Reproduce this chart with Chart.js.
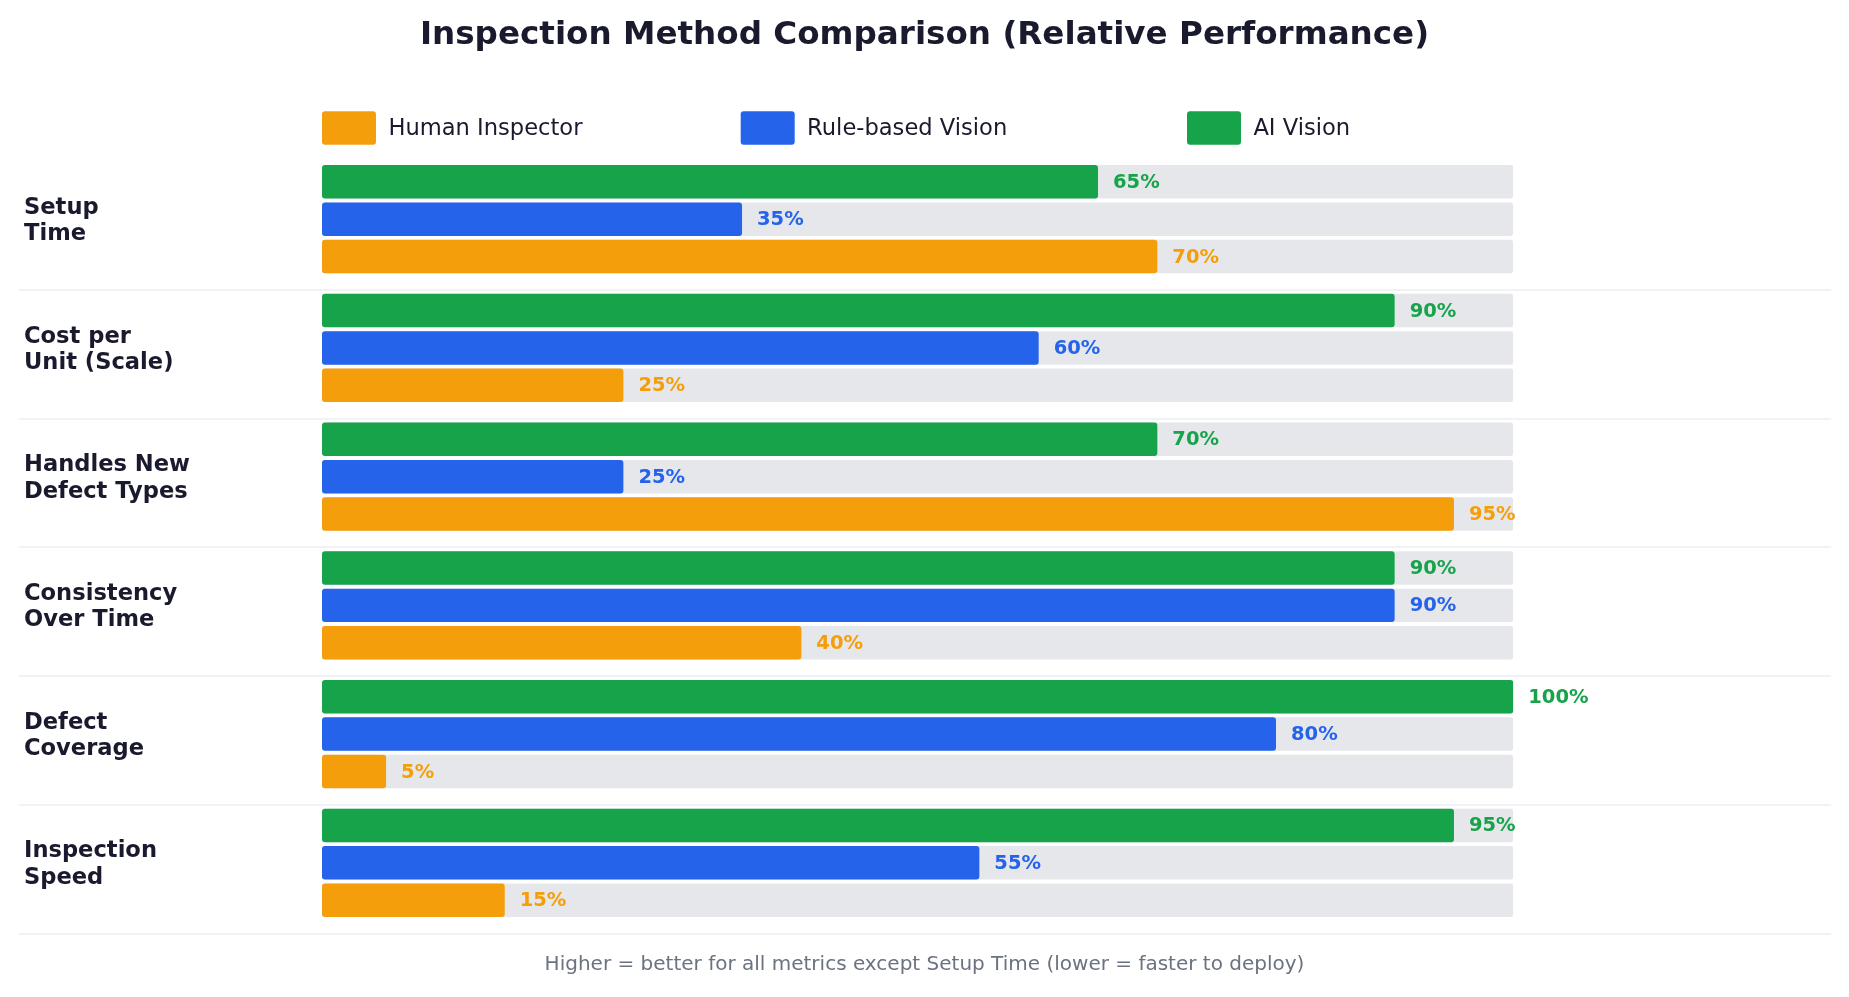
<!DOCTYPE html>
<html>
<head>
<meta charset="utf-8">
<title>Inspection Method Comparison</title>
<script src="https://cdn.jsdelivr.net/npm/chart.js@4.4.1/dist/chart.umd.min.js"></script>
<style>
  html, body { margin: 0; padding: 0; background: #ffffff; overflow: hidden; }
  #wrap { position: relative; width: 1849px; height: 997px; }
</style>
</head>
<body>
<div id="wrap"><canvas id="chart"></canvas></div>
<script>
// ---- Data ----
const categoryLabels = [
  ['Setup', 'Time'],
  ['Cost per', 'Unit (Scale)'],
  ['Handles New', 'Defect Types'],
  ['Consistency', 'Over Time'],
  ['Defect', 'Coverage'],
  ['Inspection', 'Speed']
];
const aiVision = [65, 90, 70, 90, 100, 95];
const ruleBasedVision = [35, 60, 25, 90, 80, 55];
const humanInspector = [70, 25, 95, 40, 5, 15];
const seriesNames = ['AI Vision', 'Rule-based Vision', 'Human Inspector'];
const legendOrder = ['Human Inspector', 'Rule-based Vision', 'AI Vision'];
const scaleMax = 100;
const titleText = 'Inspection Method Comparison (Relative Performance)';
const footnoteText = 'Higher = better for all metrics except Setup Time (lower = faster to deploy)';

// ---- Styles ----
const FONT = '"DejaVu Sans", sans-serif';
const INK = '#1a1a2e';
const TRACK = '#e5e7eb';
const seriesColors = ['#16a34a', '#2563eb', '#f59e0b'];
const seriesStacks = ['ai', 'rule', 'human'];
const seriesData = [aiVision, ruleBasedVision, humanInspector];
const barStart = -0.4; // bars start a hair before zero (small minimum bar stub)

Chart.defaults.font.family = FONT;

const barShape = {
  borderRadius: 3,
  borderSkipped: false,
  categoryPercentage: 0.872,
  barPercentage: 0.895,
  base: barStart
};

const valueDatasets = seriesNames.map((name, i) => Object.assign({
  label: name,
  data: seriesData[i],
  backgroundColor: seriesColors[i],
  stack: seriesStacks[i],
  isValue: true
}, barShape));

const trackDatasets = seriesNames.map((name, i) => Object.assign({
  label: name + ' (track)',
  data: categoryLabels.map(() => scaleMax),
  backgroundColor: TRACK,
  stack: seriesStacks[i],
  isValue: false
}, barShape));

function roundRectPath(ctx, x, y, w, h, r) {
  ctx.beginPath();
  ctx.moveTo(x + r, y);
  ctx.lineTo(x + w - r, y);
  ctx.arcTo(x + w, y, x + w, y + r, r);
  ctx.lineTo(x + w, y + h - r);
  ctx.arcTo(x + w, y + h, x + w - r, y + h, r);
  ctx.lineTo(x + r, y + h);
  ctx.arcTo(x, y + h, x, y + h - r, r);
  ctx.lineTo(x, y + r);
  ctx.arcTo(x, y, x + r, y, r);
  ctx.closePath();
}

// Separators between category groups
const separatorPlugin = {
  id: 'groupSeparators',
  beforeDatasetsDraw(chart, args, opts) {
    const ys = chart.scales.y;
    const n = categoryLabels.length;
    const band = (ys.bottom - ys.top) / n;
    const ctx = chart.ctx;
    ctx.save();
    ctx.strokeStyle = opts.color;
    ctx.lineWidth = opts.width;
    for (let i = 0; i < n; i++) {
      const y = Math.round(ys.getPixelForTick(i) + band * opts.offset);
      ctx.beginPath();
      ctx.moveTo(opts.left, y);
      ctx.lineTo(chart.width - opts.right, y);
      ctx.stroke();
    }
    ctx.restore();
  }
};

// Value labels at the end of each value bar
const valueLabelPlugin = {
  id: 'valueLabels',
  afterDatasetsDraw(chart, args, opts) {
    const ctx = chart.ctx;
    ctx.save();
    ctx.font = 'bold ' + opts.size + 'px ' + FONT;
    ctx.textAlign = 'left';
    ctx.textBaseline = 'middle';
    chart.data.datasets.forEach((ds, di) => {
      if (!ds.isValue) return;
      const meta = chart.getDatasetMeta(di);
      ctx.fillStyle = ds.backgroundColor;
      meta.data.forEach((bar, i) => {
        ctx.fillText(ds.data[i] + '%', bar.x + opts.gap, bar.y + 1);
      });
    });
    ctx.restore();
  }
};

// Legend drawn above the bars
const legendPlugin = {
  id: 'customLegend',
  afterDraw(chart, args, opts) {
    const ctx = chart.ctx;
    const left = chart.chartArea.left;
    ctx.save();
    opts.items.forEach((name, i) => {
      const ds = chart.data.datasets.find(d => d.label === name);
      const x = left + opts.offsets[i];
      const y = opts.centerY;
      ctx.fillStyle = ds.backgroundColor;
      roundRectPath(ctx, x, y - opts.boxH / 2, opts.boxW, opts.boxH, 3);
      ctx.fill();
      ctx.fillStyle = INK;
      ctx.font = opts.size + 'px ' + FONT;
      ctx.textAlign = 'left';
      ctx.textBaseline = 'middle';
      ctx.fillText(name, x + opts.boxW + opts.textGap, y + 1);
    });
    ctx.restore();
  }
};

new Chart(document.getElementById('chart'), {
  type: 'bar',
  data: {
    labels: categoryLabels,
    datasets: valueDatasets.concat(trackDatasets)
  },
  options: {
    indexAxis: 'y',
    responsive: true,
    maintainAspectRatio: false,
    devicePixelRatio: 1,
    animation: false,
    events: [],
    layout: { padding: { left: 24, right: 24, top: 0, bottom: 0 } },
    scales: {
      x: {
        display: false,
        min: barStart,
        max: scaleMax,
        stacked: false
      },
      y: {
        position: 'left',
        grid: { display: false },
        border: { display: false },
        ticks: {
          crossAlign: 'far',
          color: INK,
          padding: 0,
          labelOffset: 2,
          font: { size: 22.6, weight: 'bold', lineHeight: 1.17 }
        },
        afterFit(scale) { scale.width = 298; }
      },
      yRight: {
        type: 'category',
        position: 'right',
        display: true,
        grid: { display: false },
        border: { display: false },
        ticks: { display: false },
        afterFit(scale) { scale.width = 311.7; }
      }
    },
    plugins: {
      legend: { display: false },
      tooltip: { enabled: false },
      title: {
        display: true,
        text: titleText,
        color: INK,
        font: { size: 32.6, weight: 'bold' },
        padding: { top: 16, bottom: 99.7 }
      },
      subtitle: {
        display: true,
        position: 'bottom',
        text: footnoteText,
        color: '#6b7280',
        font: { size: 20, weight: 'normal' },
        padding: { top: 25.3, bottom: 20.5 }
      },
      groupSeparators: { color: '#f1f2f4', width: 2, offset: 0.55, left: 19, right: 18 },
      valueLabels: { size: 19.5, gap: 15 },
      customLegend: {
        items: legendOrder,
        offsets: [0, 418.7, 865],
        centerY: 128,
        boxW: 54,
        boxH: 33.4,
        textGap: 12.4,
        size: 22.6
      }
    }
  },
  plugins: [separatorPlugin, valueLabelPlugin, legendPlugin]
});
</script>
</body>
</html>
